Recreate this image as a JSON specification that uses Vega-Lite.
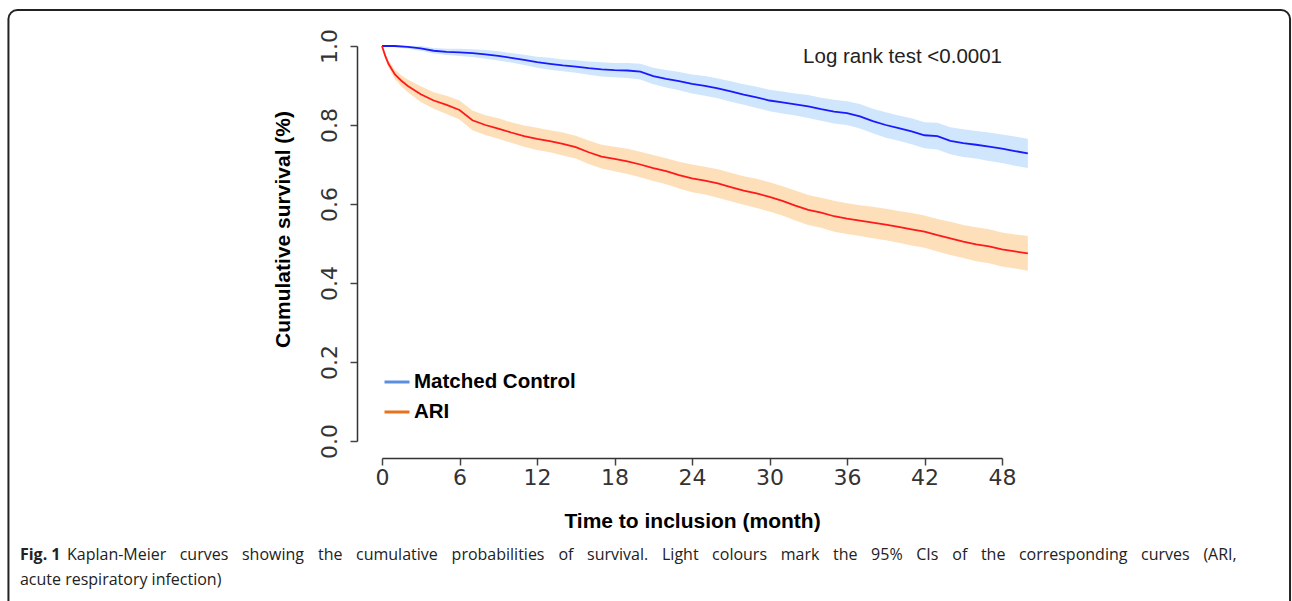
{
  "$schema": "https://vega.github.io/schema/vega-lite/v6.json",
  "width": 620,
  "height": 395,
  "autosize": {"type": "none"},
  "padding": {"left": 382, "top": 46, "right": 290, "bottom": 160},
  "background": "white",
  "config": {"view": {"stroke": null}, "text": {"font": "Open Sans", "fontSize": 16, "color": "#222", "align": "left", "baseline": "middle"}},
  "datasets": {
    "km": [
      {"group": "Matched Control", "t": 0, "s": 1.0, "lo": 1.0, "hi": 1.0},
      {"group": "Matched Control", "t": 1, "s": 1.0, "lo": 0.997, "hi": 1.0},
      {"group": "Matched Control", "t": 2, "s": 0.998, "lo": 0.993, "hi": 1.0},
      {"group": "Matched Control", "t": 3, "s": 0.994, "lo": 0.988, "hi": 1.0},
      {"group": "Matched Control", "t": 4, "s": 0.988, "lo": 0.981, "hi": 0.995},
      {"group": "Matched Control", "t": 5, "s": 0.985, "lo": 0.977, "hi": 0.993},
      {"group": "Matched Control", "t": 6, "s": 0.984, "lo": 0.975, "hi": 0.993},
      {"group": "Matched Control", "t": 7, "s": 0.982, "lo": 0.972, "hi": 0.992},
      {"group": "Matched Control", "t": 8, "s": 0.979, "lo": 0.968, "hi": 0.990},
      {"group": "Matched Control", "t": 9, "s": 0.975, "lo": 0.963, "hi": 0.987},
      {"group": "Matched Control", "t": 10, "s": 0.970, "lo": 0.958, "hi": 0.982},
      {"group": "Matched Control", "t": 11, "s": 0.965, "lo": 0.952, "hi": 0.978},
      {"group": "Matched Control", "t": 12, "s": 0.959, "lo": 0.945, "hi": 0.973},
      {"group": "Matched Control", "t": 13, "s": 0.955, "lo": 0.940, "hi": 0.970},
      {"group": "Matched Control", "t": 14, "s": 0.951, "lo": 0.936, "hi": 0.966},
      {"group": "Matched Control", "t": 15, "s": 0.948, "lo": 0.932, "hi": 0.964},
      {"group": "Matched Control", "t": 16, "s": 0.944, "lo": 0.927, "hi": 0.961},
      {"group": "Matched Control", "t": 17, "s": 0.941, "lo": 0.923, "hi": 0.959},
      {"group": "Matched Control", "t": 18, "s": 0.939, "lo": 0.921, "hi": 0.957},
      {"group": "Matched Control", "t": 19, "s": 0.938, "lo": 0.919, "hi": 0.957},
      {"group": "Matched Control", "t": 20, "s": 0.935, "lo": 0.915, "hi": 0.955},
      {"group": "Matched Control", "t": 21, "s": 0.924, "lo": 0.903, "hi": 0.945},
      {"group": "Matched Control", "t": 22, "s": 0.917, "lo": 0.895, "hi": 0.939},
      {"group": "Matched Control", "t": 23, "s": 0.911, "lo": 0.888, "hi": 0.934},
      {"group": "Matched Control", "t": 24, "s": 0.904, "lo": 0.880, "hi": 0.928},
      {"group": "Matched Control", "t": 25, "s": 0.899, "lo": 0.874, "hi": 0.924},
      {"group": "Matched Control", "t": 26, "s": 0.893, "lo": 0.868, "hi": 0.918},
      {"group": "Matched Control", "t": 27, "s": 0.885, "lo": 0.859, "hi": 0.911},
      {"group": "Matched Control", "t": 28, "s": 0.877, "lo": 0.851, "hi": 0.903},
      {"group": "Matched Control", "t": 29, "s": 0.870, "lo": 0.843, "hi": 0.897},
      {"group": "Matched Control", "t": 30, "s": 0.862, "lo": 0.835, "hi": 0.889},
      {"group": "Matched Control", "t": 31, "s": 0.857, "lo": 0.829, "hi": 0.885},
      {"group": "Matched Control", "t": 32, "s": 0.852, "lo": 0.824, "hi": 0.880},
      {"group": "Matched Control", "t": 33, "s": 0.847, "lo": 0.818, "hi": 0.876},
      {"group": "Matched Control", "t": 34, "s": 0.840, "lo": 0.811, "hi": 0.869},
      {"group": "Matched Control", "t": 35, "s": 0.834, "lo": 0.804, "hi": 0.864},
      {"group": "Matched Control", "t": 36, "s": 0.830, "lo": 0.800, "hi": 0.860},
      {"group": "Matched Control", "t": 37, "s": 0.822, "lo": 0.791, "hi": 0.853},
      {"group": "Matched Control", "t": 38, "s": 0.810, "lo": 0.779, "hi": 0.841},
      {"group": "Matched Control", "t": 39, "s": 0.800, "lo": 0.768, "hi": 0.832},
      {"group": "Matched Control", "t": 40, "s": 0.792, "lo": 0.760, "hi": 0.824},
      {"group": "Matched Control", "t": 41, "s": 0.784, "lo": 0.751, "hi": 0.817},
      {"group": "Matched Control", "t": 42, "s": 0.774, "lo": 0.741, "hi": 0.807},
      {"group": "Matched Control", "t": 43, "s": 0.772, "lo": 0.738, "hi": 0.806},
      {"group": "Matched Control", "t": 44, "s": 0.760, "lo": 0.726, "hi": 0.794},
      {"group": "Matched Control", "t": 45, "s": 0.754, "lo": 0.719, "hi": 0.789},
      {"group": "Matched Control", "t": 46, "s": 0.750, "lo": 0.715, "hi": 0.785},
      {"group": "Matched Control", "t": 47, "s": 0.745, "lo": 0.709, "hi": 0.781},
      {"group": "Matched Control", "t": 48, "s": 0.740, "lo": 0.704, "hi": 0.776},
      {"group": "Matched Control", "t": 49, "s": 0.734, "lo": 0.697, "hi": 0.771},
      {"group": "Matched Control", "t": 50, "s": 0.728, "lo": 0.691, "hi": 0.765},
      {"group": "ARI", "t": 0, "s": 1.0, "lo": 1.0, "hi": 1.0},
      {"group": "ARI", "t": 0.25, "s": 0.975, "lo": 0.969, "hi": 0.981},
      {"group": "ARI", "t": 0.5, "s": 0.955, "lo": 0.946, "hi": 0.964},
      {"group": "ARI", "t": 1, "s": 0.928, "lo": 0.916, "hi": 0.940},
      {"group": "ARI", "t": 1.5, "s": 0.912, "lo": 0.898, "hi": 0.926},
      {"group": "ARI", "t": 2, "s": 0.899, "lo": 0.883, "hi": 0.915},
      {"group": "ARI", "t": 3, "s": 0.878, "lo": 0.858, "hi": 0.898},
      {"group": "ARI", "t": 4, "s": 0.862, "lo": 0.841, "hi": 0.883},
      {"group": "ARI", "t": 5, "s": 0.851, "lo": 0.828, "hi": 0.874},
      {"group": "ARI", "t": 6, "s": 0.838, "lo": 0.814, "hi": 0.862},
      {"group": "ARI", "t": 7, "s": 0.812, "lo": 0.787, "hi": 0.837},
      {"group": "ARI", "t": 8, "s": 0.800, "lo": 0.775, "hi": 0.825},
      {"group": "ARI", "t": 9, "s": 0.791, "lo": 0.765, "hi": 0.817},
      {"group": "ARI", "t": 10, "s": 0.781, "lo": 0.755, "hi": 0.807},
      {"group": "ARI", "t": 11, "s": 0.772, "lo": 0.745, "hi": 0.799},
      {"group": "ARI", "t": 12, "s": 0.765, "lo": 0.737, "hi": 0.793},
      {"group": "ARI", "t": 13, "s": 0.759, "lo": 0.731, "hi": 0.787},
      {"group": "ARI", "t": 14, "s": 0.752, "lo": 0.723, "hi": 0.781},
      {"group": "ARI", "t": 15, "s": 0.744, "lo": 0.715, "hi": 0.773},
      {"group": "ARI", "t": 16, "s": 0.731, "lo": 0.701, "hi": 0.761},
      {"group": "ARI", "t": 17, "s": 0.720, "lo": 0.690, "hi": 0.750},
      {"group": "ARI", "t": 18, "s": 0.714, "lo": 0.683, "hi": 0.745},
      {"group": "ARI", "t": 19, "s": 0.708, "lo": 0.676, "hi": 0.740},
      {"group": "ARI", "t": 20, "s": 0.700, "lo": 0.668, "hi": 0.732},
      {"group": "ARI", "t": 21, "s": 0.691, "lo": 0.658, "hi": 0.724},
      {"group": "ARI", "t": 22, "s": 0.683, "lo": 0.650, "hi": 0.716},
      {"group": "ARI", "t": 23, "s": 0.673, "lo": 0.639, "hi": 0.707},
      {"group": "ARI", "t": 24, "s": 0.665, "lo": 0.630, "hi": 0.700},
      {"group": "ARI", "t": 25, "s": 0.659, "lo": 0.624, "hi": 0.694},
      {"group": "ARI", "t": 26, "s": 0.652, "lo": 0.616, "hi": 0.688},
      {"group": "ARI", "t": 27, "s": 0.643, "lo": 0.607, "hi": 0.679},
      {"group": "ARI", "t": 28, "s": 0.634, "lo": 0.598, "hi": 0.670},
      {"group": "ARI", "t": 29, "s": 0.627, "lo": 0.590, "hi": 0.664},
      {"group": "ARI", "t": 30, "s": 0.618, "lo": 0.581, "hi": 0.655},
      {"group": "ARI", "t": 31, "s": 0.608, "lo": 0.571, "hi": 0.645},
      {"group": "ARI", "t": 32, "s": 0.596, "lo": 0.558, "hi": 0.634},
      {"group": "ARI", "t": 33, "s": 0.585, "lo": 0.547, "hi": 0.623},
      {"group": "ARI", "t": 34, "s": 0.578, "lo": 0.540, "hi": 0.616},
      {"group": "ARI", "t": 35, "s": 0.569, "lo": 0.530, "hi": 0.608},
      {"group": "ARI", "t": 36, "s": 0.563, "lo": 0.524, "hi": 0.602},
      {"group": "ARI", "t": 37, "s": 0.558, "lo": 0.519, "hi": 0.597},
      {"group": "ARI", "t": 38, "s": 0.553, "lo": 0.513, "hi": 0.593},
      {"group": "ARI", "t": 39, "s": 0.548, "lo": 0.508, "hi": 0.588},
      {"group": "ARI", "t": 40, "s": 0.542, "lo": 0.502, "hi": 0.582},
      {"group": "ARI", "t": 41, "s": 0.536, "lo": 0.495, "hi": 0.577},
      {"group": "ARI", "t": 42, "s": 0.530, "lo": 0.489, "hi": 0.571},
      {"group": "ARI", "t": 43, "s": 0.521, "lo": 0.480, "hi": 0.562},
      {"group": "ARI", "t": 44, "s": 0.513, "lo": 0.471, "hi": 0.555},
      {"group": "ARI", "t": 45, "s": 0.505, "lo": 0.463, "hi": 0.547},
      {"group": "ARI", "t": 46, "s": 0.498, "lo": 0.455, "hi": 0.541},
      {"group": "ARI", "t": 47, "s": 0.493, "lo": 0.450, "hi": 0.536},
      {"group": "ARI", "t": 48, "s": 0.485, "lo": 0.442, "hi": 0.528},
      {"group": "ARI", "t": 49, "s": 0.480, "lo": 0.437, "hi": 0.523},
      {"group": "ARI", "t": 50, "s": 0.475, "lo": 0.431, "hi": 0.519}
    ]
  },
  "layer": [
    {
      "data": {"values": [{"name": "frame"}]},
      "mark": {"type": "rect", "filled": false, "stroke": "#222", "strokeWidth": 2, "cornerRadius": 9},
      "encoding": {
        "x": {"datum": -28.92, "type": "quantitative"},
        "x2": {"datum": 70.3},
        "y": {"datum": 1.0911, "type": "quantitative"},
        "y2": {"datum": -0.5}
      }
    },
    {
      "data": {"name": "km"},
      "mark": {"type": "area", "interpolate": "linear", "opacity": 1},
      "encoding": {
        "x": {
          "field": "t", "type": "quantitative",
          "scale": {"domain": [0, 48], "nice": false, "zero": false},
          "axis": {
            "title": "Time to inclusion (month)",
            "values": [0, 6, 12, 18, 24, 30, 36, 42, 48],
            "offset": 17, "grid": false,
            "domainColor": "#333", "domainWidth": 1.5,
            "tickColor": "#444", "tickSize": 7, "tickWidth": 1.5,
            "labelFont": "DejaVu Sans", "labelFontSize": 22, "labelColor": "#333", "labelPadding": 2,
            "labelFlush": false, "labelOverlap": false,
            "titleFont": "Liberation Sans", "titleFontSize": 21, "titleFontWeight": "bold", "titleColor": "#000", "titlePadding": 22
          }
        },
        "y": {
          "field": "lo", "type": "quantitative",
          "scale": {"domain": [0, 1], "nice": false, "zero": false},
          "axis": {
            "title": "Cumulative survival (%)",
            "values": [0, 0.2, 0.4, 0.6, 0.8, 1.0], "format": ".1f",
            "offset": 25, "grid": false,
            "domainColor": "#333", "domainWidth": 1.5,
            "tickColor": "#444", "tickSize": 7, "tickWidth": 1.5,
            "labelFont": "DejaVu Sans", "labelFontSize": 22, "labelColor": "#333", "labelAngle": 270, "labelPadding": 9,
            "labelFlush": false, "labelOverlap": false,
            "titleFont": "Liberation Sans", "titleFontSize": 21, "titleFontWeight": "bold", "titleColor": "#000",
            "titleX": -64, "titleY": 183
          }
        },
        "y2": {"field": "hi"},
        "fill": {"field": "group", "type": "nominal",
          "scale": {"domain": ["ARI", "Matched Control"], "range": ["#fde0ba", "#d0e6fc"]}, "legend": null}
      }
    },
    {
      "data": {"name": "km"},
      "mark": {"type": "line", "interpolate": "linear", "strokeWidth": 1.8},
      "encoding": {
        "x": {"field": "t", "type": "quantitative"},
        "y": {"field": "s", "type": "quantitative"},
        "stroke": {"field": "group", "type": "nominal",
          "scale": {"domain": ["ARI", "Matched Control"], "range": ["#ff1a1a", "#1a1aff"]}, "legend": null}
      }
    },
    {
      "data": {"values": [{"group": "Matched Control"}, {"group": "ARI"}]},
      "mark": {"type": "line", "strokeWidth": 3},
      "encoding": {
        "x": {"datum": 0, "type": "quantitative"},
        "y": {"datum": 1, "type": "quantitative"},
        "color": {"field": "group", "type": "nominal",
          "scale": {"domain": ["Matched Control", "ARI"], "range": ["#5a8fe0", "#e8711e"]},
          "legend": {
            "title": null, "orient": "none", "legendX": 1, "legendY": 322,
            "symbolType": "stroke", "symbolSize": 625, "symbolStrokeWidth": 3, "symbolOpacity": 1,
            "labelFont": "Liberation Sans", "labelFontSize": 20.5, "labelFontWeight": "bold", "labelColor": "#000",
            "labelOffset": 3, "rowPadding": 5, "padding": 0, "labelLimit": 400
          }
        }
      }
    },
    {
      "data": {"values": [{"label": "Log rank test <0.0001"}]},
      "mark": {"type": "text", "font": "Liberation Sans", "fontSize": 20.5, "align": "center"},
      "encoding": {"x": {"datum": 40.3, "type": "quantitative"}, "y": {"datum": 0.972, "type": "quantitative"}, "text": {"field": "label", "type": "nominal"}}
    },
    {
      "data": {"values": [{"label": "Fig. 1"}]},
      "mark": {"type": "text", "fontWeight": "bold"},
      "encoding": {"x": {"datum": -28.03, "type": "quantitative"}, "y": {"datum": -0.2886, "type": "quantitative"}, "text": {"field": "label", "type": "nominal"}}
    },
    {"data": {"values": [{"label": "Kaplan-Meier"}]}, "mark": "text", "encoding": {"x": {"datum": -24.387, "type": "quantitative"}, "y": {"datum": -0.2886, "type": "quantitative"}, "text": {"field": "label", "type": "nominal"}}},
    {"data": {"values": [{"label": "curves"}]}, "mark": "text", "encoding": {"x": {"datum": -15.662, "type": "quantitative"}, "y": {"datum": -0.2886, "type": "quantitative"}, "text": {"field": "label", "type": "nominal"}}},
    {"data": {"values": [{"label": "showing"}]}, "mark": "text", "encoding": {"x": {"datum": -10.839, "type": "quantitative"}, "y": {"datum": -0.2886, "type": "quantitative"}, "text": {"field": "label", "type": "nominal"}}},
    {"data": {"values": [{"label": "the"}]}, "mark": "text", "encoding": {"x": {"datum": -4.955, "type": "quantitative"}, "y": {"datum": -0.2886, "type": "quantitative"}, "text": {"field": "label", "type": "nominal"}}},
    {"data": {"values": [{"label": "cumulative"}]}, "mark": "text", "encoding": {"x": {"datum": -2.013, "type": "quantitative"}, "y": {"datum": -0.2886, "type": "quantitative"}, "text": {"field": "label", "type": "nominal"}}},
    {"data": {"values": [{"label": "probabilities"}]}, "mark": "text", "encoding": {"x": {"datum": 5.388, "type": "quantitative"}, "y": {"datum": -0.2886, "type": "quantitative"}, "text": {"field": "label", "type": "nominal"}}},
    {"data": {"values": [{"label": "of"}]}, "mark": "text", "encoding": {"x": {"datum": 13.657, "type": "quantitative"}, "y": {"datum": -0.2886, "type": "quantitative"}, "text": {"field": "label", "type": "nominal"}}},
    {"data": {"values": [{"label": "survival."}]}, "mark": "text", "encoding": {"x": {"datum": 15.871, "type": "quantitative"}, "y": {"datum": -0.2886, "type": "quantitative"}, "text": {"field": "label", "type": "nominal"}}},
    {"data": {"values": [{"label": "Light"}]}, "mark": "text", "encoding": {"x": {"datum": 21.677, "type": "quantitative"}, "y": {"datum": -0.2886, "type": "quantitative"}, "text": {"field": "label", "type": "nominal"}}},
    {"data": {"values": [{"label": "colours"}]}, "mark": "text", "encoding": {"x": {"datum": 25.556, "type": "quantitative"}, "y": {"datum": -0.2886, "type": "quantitative"}, "text": {"field": "label", "type": "nominal"}}},
    {"data": {"values": [{"label": "mark"}]}, "mark": "text", "encoding": {"x": {"datum": 30.867, "type": "quantitative"}, "y": {"datum": -0.2886, "type": "quantitative"}, "text": {"field": "label", "type": "nominal"}}},
    {"data": {"values": [{"label": "the"}]}, "mark": "text", "encoding": {"x": {"datum": 34.924, "type": "quantitative"}, "y": {"datum": -0.2886, "type": "quantitative"}, "text": {"field": "label", "type": "nominal"}}},
    {"data": {"values": [{"label": "95%"}]}, "mark": "text", "encoding": {"x": {"datum": 37.866, "type": "quantitative"}, "y": {"datum": -0.2886, "type": "quantitative"}, "text": {"field": "label", "type": "nominal"}}},
    {"data": {"values": [{"label": "CIs"}]}, "mark": "text", "encoding": {"x": {"datum": 41.357, "type": "quantitative"}, "y": {"datum": -0.2886, "type": "quantitative"}, "text": {"field": "label", "type": "nominal"}}},
    {"data": {"values": [{"label": "of"}]}, "mark": "text", "encoding": {"x": {"datum": 44.152, "type": "quantitative"}, "y": {"datum": -0.2886, "type": "quantitative"}, "text": {"field": "label", "type": "nominal"}}},
    {"data": {"values": [{"label": "the"}]}, "mark": "text", "encoding": {"x": {"datum": 46.366, "type": "quantitative"}, "y": {"datum": -0.2886, "type": "quantitative"}, "text": {"field": "label", "type": "nominal"}}},
    {"data": {"values": [{"label": "corresponding"}]}, "mark": "text", "encoding": {"x": {"datum": 49.308, "type": "quantitative"}, "y": {"datum": -0.2886, "type": "quantitative"}, "text": {"field": "label", "type": "nominal"}}},
    {"data": {"values": [{"label": "curves"}]}, "mark": "text", "encoding": {"x": {"datum": 58.769, "type": "quantitative"}, "y": {"datum": -0.2886, "type": "quantitative"}, "text": {"field": "label", "type": "nominal"}}},
    {"data": {"values": [{"label": "(ARI,"}]}, "mark": "text", "encoding": {"x": {"datum": 63.592, "type": "quantitative"}, "y": {"datum": -0.2886, "type": "quantitative"}, "text": {"field": "label", "type": "nominal"}}},
    {"data": {"values": [{"label": "acute respiratory infection)"}]}, "mark": "text", "encoding": {"x": {"datum": -28.03, "type": "quantitative"}, "y": {"datum": -0.3519, "type": "quantitative"}, "text": {"field": "label", "type": "nominal"}}}
  ]
}
